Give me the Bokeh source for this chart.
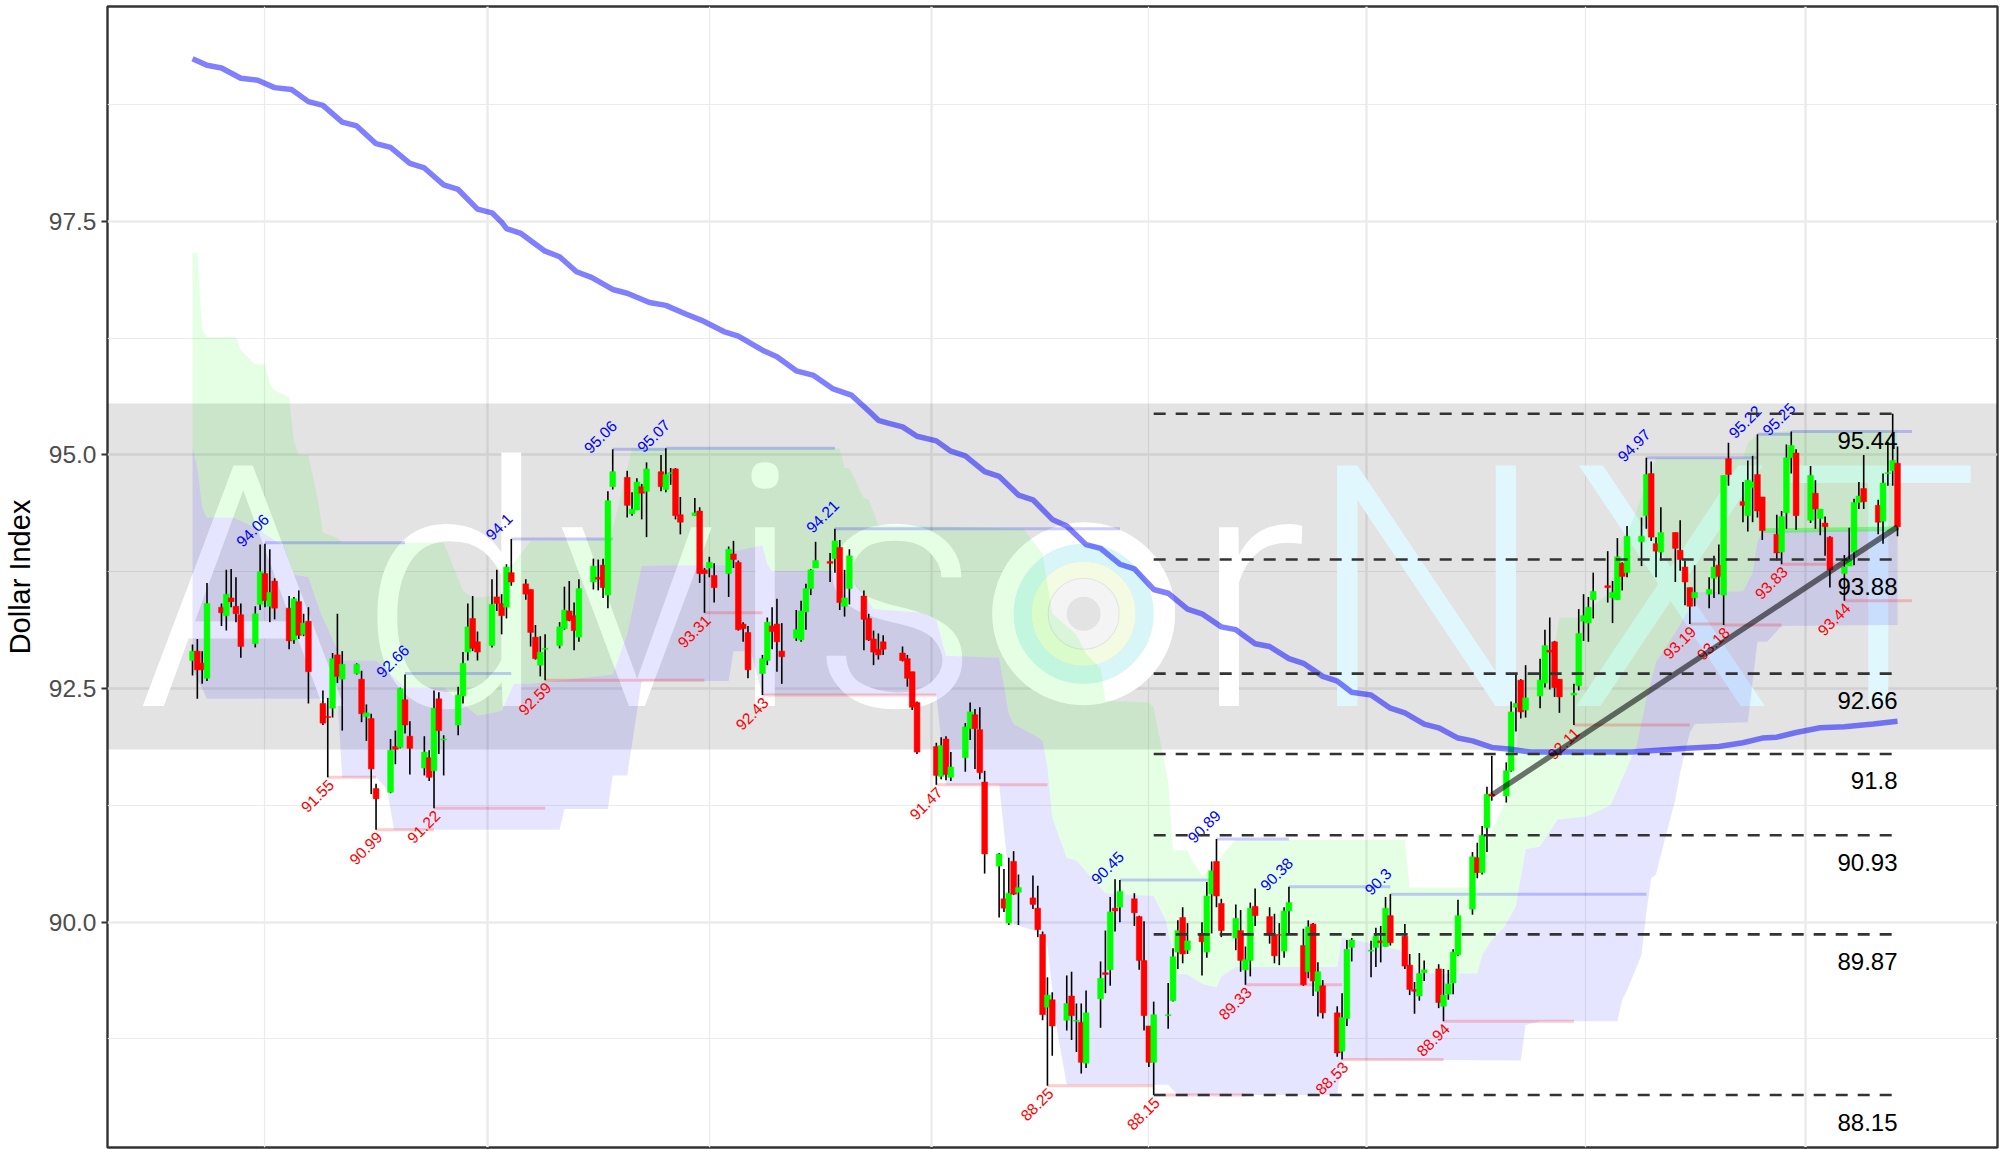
from bokeh.plotting import figure
from bokeh.models import Range1d, FixedTicker, NumeralTickFormatter
from bokeh.core.properties import value
from bokeh.embed import file_html
from bokeh.resources import INLINE

candle_day = [
 0,1,2,3, 6,7,8,9,10, 13,14,15,16,17, 20,21,22,23,24, 27,28,29,30,31,
 34,35,36,37,38, 41,42,43,44,45, 48,49,50,51,52, 55,56,57,58,59, 62,63,64,65,66,
 69,70,71,72,73, 76,77,78,79,80, 83,84,85,86,87, 90,91,92,93,94, 97,98,99,100,101,
 104,105,106,107,108, 111,112,113,114,115, 118,119,120,121,122, 125,126,127,128,129,
 132,133,134,135,136, 139,140,141,142,143, 147,148,149,150, 154,155,156,157, 160,161,162,163,164,
 167,168,169,170,171, 174,175,176,177,178, 181,182,183,184,185, 188,189,190,191,192,
 195,196,197,198,199, 202,203,204,205,206, 209,210,211,212,213, 216,217,218,219,220,
 223,224,225,226,227, 230,231,232,233,234, 237,238,239,240, 244,245,246,247,248,
 251,252,253,254,255, 258,259,260,261,262, 265,266,267,268,269, 272,273,274,275,276,
 279,280,281,282,283, 286,287,288,289,290, 293,294,295,296,297, 300,301,302,303,304,
 307,308,309,310,311, 314,315,316,317,318, 321,322,323,324,325, 328,329,330,331,332,
 335,336,337,338,339, 342,343,344,345,346, 349,350,351,352,353]

opens = [
 92.80,92.90,92.77,92.61, 93.37,93.28,93.47,93.38,93.29, 92.98,93.40,93.73,93.38,93.65, 93.36,93.02,93.43,93.08,93.22, 92.34,92.20,92.29,92.86,92.60,
 92.66,92.60,92.20,92.18,91.43, 91.39,91.88,91.87,92.38,91.99, 91.65,91.76,91.62,92.39,91.95, 92.11,92.42,92.89,93.25,93.00, 92.96,93.48,93.41,93.37,93.74,
 93.62,93.56,93.05,92.75,92.92, 92.96,93.14,93.33,93.28,93.05, 93.64,93.69,93.82,93.50,94.66, 94.76,94.37,94.41,94.66,94.61, 94.82,94.63,94.80,94.85,94.36,
 94.35,94.40,93.77,93.79,93.71, 93.73,93.94,93.85,93.19,93.10, 92.66,92.80,93.17,93.19,92.90, 93.04,93.02,93.32,93.57,93.79,
 93.86,93.89,94.01,93.38,93.57, 93.49,93.25,93.03,92.92,93.00, 92.88,92.82,92.68,92.35, 91.88,91.56,91.96,91.55, 91.76,92.07,92.22,92.06,91.50,
 90.60,90.25,89.99,90.65,90.32, 90.26,90.15,89.87,89.09,89.17, 88.95,89.21,88.94,88.93,88.49, 89.18,89.46,89.49,90.15,90.16,
 90.25,90.06,89.59,88.89,88.50, 89.00,89.16,89.68,90.05,89.70, 89.88,89.68,90.30,90.65,90.20, 89.83,89.91,89.49,89.59,90.17,
 90.06,89.86,89.87,89.69,90.12, 89.75,89.47,89.98,89.26,89.32, 89.03,88.62,88.97,89.73, 89.69,89.73,89.80,89.74,90.07,
 89.85,89.54,89.28,89.21,89.46, 89.50,89.10,89.23,89.35,89.65, 90.14,90.69,90.53,91.01,91.37, 91.35,91.62,92.30,92.59,92.27,
 92.42,92.56,92.91,93.00,92.60, 92.43,92.53,93.22,93.20,93.45, 93.60,93.47,93.45,93.84,93.74, 94.07,94.35,94.80,94.05,93.96,
 94.17,93.98,93.80,93.58,93.47, 93.51,93.68,93.82,93.50,94.96, 94.50,94.35,94.65,94.79,94.55, 94.15,93.96,94.38,94.97,95.02,
 94.30,94.59,94.32,94.27,94.12, 93.73,93.81,93.96,94.49,94.64, 94.46,94.29,94.80,94.83,94.91]

closes = [
 92.90,92.70,92.70,93.41, 93.31,93.51,93.43,93.30,92.95, 93.30,93.75,93.44,93.53,93.36, 93.01,93.46,93.07,93.20,92.68, 92.13,92.19,92.82,92.63,92.76,
 92.76,92.23,92.24,91.64,91.32, 91.84,91.85,92.50,92.11,91.86, 91.82,91.55,92.29,92.05,91.96, 92.43,92.77,93.16,92.93,92.89, 93.40,93.41,93.28,93.80,93.64,
 93.51,93.10,92.82,92.89,92.93, 93.16,93.34,93.23,93.12,93.57, 93.81,93.67,93.58,94.51,94.82, 94.46,94.42,94.71,94.59,94.85, 94.66,94.79,94.81,94.35,94.28,
 94.38,93.73,93.73,93.85,93.58, 93.99,93.88,93.13,93.14,92.70, 92.82,93.21,93.11,93.00,92.84, 93.13,93.33,93.57,93.77,93.87,
 93.84,94.08,93.42,93.47,93.92, 93.24,93.02,92.89,92.86,92.92, 92.80,92.61,92.30,91.82, 91.57,91.89,91.58,91.66, 92.09,92.25,92.07,91.60,90.73,
 90.73,90.15,90.31,90.30,90.37, 90.19,89.92,89.01,89.22,88.89, 89.13,89.00,88.95,88.50,89.03, 89.40,89.44,90.11,90.12,90.33,
 90.10,89.59,89.00,88.50,89.01, 89.01,89.63,89.91,89.66,89.80, 89.79,90.28,90.55,90.28,89.91, 90.04,89.59,89.60,90.15,90.07,
 89.86,89.64,89.86,90.12,90.21, 89.33,89.95,89.37,89.47,89.03, 88.60,88.98,89.71,89.81, 89.70,89.85,89.78,90.15,89.78,
 89.53,89.28,89.26,89.45,89.49, 89.14,89.22,89.34,89.68,90.07, 90.70,90.53,90.93,91.37,91.35, 91.62,92.25,92.34,92.25,92.40,
 92.59,92.96,92.89,92.51,92.41, 92.45,93.09,93.28,93.37,93.54, 93.58,93.53,93.91,93.70,94.13, 94.13,94.79,94.12,93.97,94.17,
 94.00,93.88,93.64,93.38,93.53, 93.56,93.80,93.70,94.78,94.79, 94.46,94.73,94.71,94.40,94.19, 93.95,94.34,94.97,95.10,94.35,
 94.78,94.42,94.42,94.23,93.77, 93.80,93.88,94.49,94.56,94.50, 94.28,94.70,94.81,94.94,94.23]

highs = [
 92.97,93.03,92.90,93.63, 93.41,93.77,93.78,93.69,93.41, 93.38,94.04,94.05,93.99,93.68, 93.49,93.48,93.55,93.30,93.37, 92.48,92.40,92.88,93.30,92.90,
 92.77,92.69,92.33,92.23,91.48, 91.96,92.05,92.51,92.65,92.15, 91.99,91.84,92.48,92.46,92.00, 92.52,92.89,93.41,93.49,93.11, 93.67,93.77,93.51,93.83,94.10,
 93.67,93.56,93.18,93.06,93.08, 93.21,93.59,93.65,93.42,93.67, 93.89,93.88,93.89,94.61,95.06, 94.83,94.60,94.75,94.69,94.92, 95.00,95.07,94.86,94.86,94.55,
 94.54,94.44,93.79,93.91,93.84, 94.02,94.08,93.87,93.21,93.17, 92.86,93.26,93.37,93.46,93.20, 93.34,93.44,93.62,93.78,94.07,
 93.95,94.21,94.09,93.77,93.99, 93.55,93.30,93.12,93.09,93.07, 92.95,92.86,92.68,92.36, 91.92,91.98,91.99,91.82, 92.13,92.35,92.28,92.30,91.62,
 90.74,90.57,90.69,90.76,90.51, 90.50,90.39,89.90,89.41,89.25, 89.43,89.47,89.13,89.13,89.27, 89.58,89.91,90.27,90.46,90.45,
 90.31,90.07,90.01,88.89,89.15, 89.35,89.72,90.02,90.16,89.99, 90.00,90.43,90.65,90.89,90.25, 90.19,90.13,89.74,90.21,90.36,
 90.16,90.09,89.99,90.16,90.38, 89.93,90.02,89.99,89.57,89.38, 89.10,89.24,89.81,89.83, 89.80,89.94,89.96,90.27,90.30,
 89.98,89.66,89.36,89.67,89.59, 89.55,89.50,89.49,89.71,90.24, 90.75,90.85,91.03,91.45,91.78, 91.71,92.36,92.66,92.60,92.75,
 92.82,93.13,93.26,93.01,92.60, 92.55,93.35,93.51,93.48,93.74, 93.97,93.65,94.11,93.85,94.24, 94.33,94.97,94.93,94.12,94.44,
 94.17,94.30,93.87,93.58,93.82, 93.69,93.92,94.04,94.78,95.13, 94.71,94.94,94.99,95.22,94.55, 94.36,94.40,95.11,95.25,95.06,
 94.88,94.73,94.42,94.34,94.13, 93.93,94.22,94.53,94.71,95.00, 94.52,94.80,95.14,95.44,95.09]

lows = [
 92.64,92.39,92.55,92.58, 93.17,93.12,93.37,93.21,92.83, 92.94,93.34,93.37,93.21,93.24, 92.92,92.98,93.03,93.06,92.34, 92.11,91.55,92.19,92.56,92.05,
 92.65,92.14,91.94,91.37,90.99, 91.38,91.69,91.86,92.02,91.58, 91.57,91.51,91.22,91.80,91.57, 92.00,92.34,92.80,92.90,92.80, 92.94,93.33,93.08,93.25,93.60,
 93.45,92.95,92.81,92.63,92.59, 92.93,93.13,93.22,92.91,93.00, 93.56,93.55,93.47,93.36,94.63, 94.33,94.35,94.41,94.31,94.12, 94.61,94.60,94.68,94.31,94.15,
 94.35,93.63,93.31,93.69,93.42, 93.48,93.79,93.12,93.00,92.61, 92.43,92.75,92.92,92.68,92.55, 93.01,93.00,93.13,93.50,93.79,
 93.64,93.74,93.34,93.27,93.40, 92.91,93.01,92.75,92.81,92.86, 92.79,92.52,92.27,91.80, 91.47,91.53,91.52,91.51, 91.61,91.95,91.64,91.53,90.52,
 90.05,90.11,89.97,90.29,89.97, 90.14,89.84,88.95,88.25,88.57, 88.84,88.74,88.61,88.38,88.44, 88.87,89.24,89.32,89.90,90.00,
 89.96,89.49,88.84,88.45,88.15, 88.86,89.15,89.50,89.56,89.66, 89.43,89.62,89.88,90.16,89.84, 89.70,89.47,89.33,89.42,89.96,
 89.77,89.56,89.54,89.62,89.88, 89.32,89.40,89.21,88.99,88.97, 88.56,88.53,88.89,89.58, 89.41,89.52,89.57,89.74,89.75,
 89.50,89.22,89.02,89.16,89.37, 89.08,88.94,89.17,89.23,89.64, 90.08,90.47,90.51,90.75,91.30, 91.28,91.61,92.04,92.18,92.19,
 92.29,92.51,92.49,92.41,92.24, 92.11,92.48,93.01,93.00,93.25, 93.42,93.20,93.45,93.55,93.69, 93.81,94.21,94.08,93.69,93.87,
 93.64,93.76,93.39,93.19,93.38, 93.36,93.47,93.51,93.18,94.67, 94.28,94.18,94.28,94.33,94.09, 93.87,93.83,94.21,94.80,94.20,
 94.27,94.21,94.14,93.92,93.58, 93.44,93.81,93.82,94.42,94.42, 94.15,94.05,94.67,94.67,94.13]

ma_day = [0,3,6,10,13.5,17,20.5,24,27,31,34,38,41,45,48,52,55,59,62,64,65,68,73,76,79.5,82.6,87,90,94.6,98,102,105.4,110,113,118,121,125,128.6,132.5,136.4,140.4,142,144,147,150,154,157,160,164,167,171,174,178,181,185,188,192,195,199,202,206,209,213,216,220,223,227,230,234,237,240,244,248,251,255,258,262,265,269,273,277,283,290,298,309.5,316,321,325,328,332,337,342,348,353]
ma_val = [99.24,99.17,99.14,99.03,99.01,98.93,98.91,98.78,98.74,98.56,98.52,98.33,98.29,98.12,98.07,97.89,97.84,97.63,97.59,97.49,97.42,97.37,97.18,97.12,96.96,96.90,96.77,96.73,96.63,96.60,96.51,96.44,96.32,96.27,96.12,96.05,95.90,95.85,95.71,95.64,95.45,95.37,95.34,95.30,95.20,95.15,95.04,94.99,94.82,94.77,94.57,94.52,94.31,94.24,94.04,94.00,93.83,93.78,93.56,93.52,93.35,93.30,93.16,93.13,92.98,92.95,92.82,92.77,92.63,92.58,92.46,92.43,92.29,92.24,92.12,92.08,91.97,91.94,91.87,91.85,91.82,91.82,91.82,91.82,91.86,91.88,91.92,91.97,91.98,92.03,92.08,92.09,92.12,92.15]

top_day = [0,1,2,3,9,10,13,15,16,17,20,21,22,24,26,27,30,31,52,56,58,64,66,70,86.5,91,134,135,136,139,140,142,172,175,176,178,183,185,188,189,198,199,202,203,206,207,209,211,214,216,251,252,266,269,271.5,274,276,281,283,287,293,296,297,303,321,322,324,331,353]
top_val = [97.16,97.16,96.33,96.26,96.26,96.12,95.97,95.97,95.76,95.69,95.62,95.15,95.0,95.0,94.51,94.17,94.11,94.06,94.06,93.55,93.47,93.5,93.81,94.08,94.10,95.07,95.07,94.86,94.86,94.54,94.52,94.25,94.21,94.01,93.94,93.30,93.08,92.87,92.72,92.37,92.35,92.30,91.51,90.77,90.77,90.66,90.50,90.57,90.77,90.88,90.88,90.37,90.37,90.98,91.25,91.82,92.66,92.66,93.26,93.26,93.51,94.12,94.14,94.97,94.97,95.13,95.22,95.26,95.26]

mid_day = [0,1,2,3,8.5,13,19,21,24,26.5,31,38,44,52,59,64,66.5,70,87,90,93,99,111,112,118,119,120,132,136,141,151,154,156,167,169,170,175,176,177,178,181,183,189,199,201.5,204,206,209,212,213,216,237,238,250,254,266,267,269,271.6,274,276,279,282.6,288.6,293.6,299,301,303,307,309.5,311,321,323,324,325,353]
mid_val = [95.08,94.87,94.44,94.33,94.33,94.22,94.02,93.72,93.69,93.31,92.80,92.80,92.51,92.51,92.21,92.26,92.55,92.55,92.65,93.08,93.81,93.82,93.82,93.97,94.03,93.83,93.76,93.76,93.72,93.35,93.31,93.24,92.85,92.83,92.23,92.12,91.98,91.94,91.66,91.12,90.69,90.66,90.31,90.28,90.02,89.45,89.44,89.34,89.30,89.42,89.52,89.52,89.84,89.70,89.45,89.45,89.65,89.81,89.95,90.17,90.78,90.81,91.10,91.13,91.25,91.89,92.39,92.78,93.10,93.32,93.53,93.54,93.74,94.07,94.18,94.21]

bot_day = [0,3,30,31,38,40.3,41.7,76,77,86,87,90,93,111,112,115.6,118,154,156,167,168,170,176,177,179,181,202,204,237,238,275,276,279,295,296,297,300,301,302,303,305,307,308,310,311,322,324,326,329,353]
bot_val = [92.71,92.39,92.39,91.55,91.55,91.42,90.99,90.99,91.21,91.21,91.57,91.57,92.58,92.58,92.90,92.90,92.43,92.43,91.47,91.47,90.98,89.98,89.88,89.74,88.84,88.26,88.26,88.15,88.15,88.53,88.52,88.90,88.94,88.94,89.17,89.27,89.65,90.10,90.47,90.51,90.92,91.31,91.60,92.03,92.12,92.14,93.00,93.00,93.17,93.18]

high_day = [15,44,66,87,98,133,192,212,227,248,301,324,331]
high_val = [94.06,92.66,94.1,95.06,95.07,94.21,90.45,90.89,90.38,90.3,94.97,95.22,95.25]
high_txt = ["94.06","92.66","94.1","95.06","95.07","94.21","90.45","90.89","90.38","90.3","94.97","95.22","95.25"]
low_day = [28,38,50,73,106,118,154,177,199,218,238,259,286,310,317,329,342]
low_val = [91.55,90.99,91.22,92.59,93.31,92.43,91.47,88.25,88.15,89.33,88.53,88.94,92.11,93.19,93.18,93.83,93.44]
low_txt = ["91.55","90.99","91.22","92.59","93.31","92.43","91.47","88.25","88.15","89.33","88.53","88.94","92.11","93.19","93.18","93.83","93.44"]
level_val = [95.44,93.88,92.66,91.8,90.93,89.87,88.15]
level_txt = ["95.44","93.88","92.66","91.8","90.93","89.87","88.15"]
trend_day = [269,353]
trend_val = [91.36,94.23]
flat_day = [325,353]
flat_val = [94.19,94.21]
band_lo, band_hi = 91.85, 95.55
y_ticks = [90,92.5,95,97.5]
y_minor = [88.75,91.25,93.75,96.25,98.75]
x_major = [61,153,243,334]
x_minor = [15,107,198,288.5]

assert len(candle_day)==len(opens)==len(closes)==len(highs)==len(lows), (len(candle_day),len(opens),len(closes),len(highs),len(lows))
assert len(ma_day)==len(ma_val), (len(ma_day),len(ma_val))
assert len(top_day)==len(top_val), (len(top_day),len(top_val))
assert len(mid_day)==len(mid_val), (len(mid_day),len(mid_val))
assert len(bot_day)==len(bot_val), (len(bot_day),len(bot_val))

SANS = value("Liberation Sans")
p = figure(width=1999, height=1149, output_backend="svg", toolbar_location=None,
           x_range=Range1d(-17.6, 373.7), y_range=Range1d(87.589, 99.798),
           min_border_left=107, min_border_right=2, min_border_top=6, min_border_bottom=0)
p.xgrid.visible = False
p.ygrid.visible = False
p.outline_line_color = "#333333"
p.outline_line_width = 2.4
p.background_fill_color = "white"

p.yaxis.ticker = FixedTicker(ticks=y_ticks)
p.yaxis.formatter = NumeralTickFormatter(format="0.0")
p.yaxis.major_label_text_font = "Liberation Sans"
p.yaxis.major_label_text_font_size = "24.5px"
p.yaxis.major_label_text_color = "#4d4d4d"
p.yaxis.major_tick_out = 6
p.yaxis.major_tick_in = 0
p.yaxis.major_tick_line_width = 2.2
p.yaxis.major_tick_line_color = "#333333"
p.yaxis.minor_tick_line_color = None
p.yaxis.axis_line_color = None
p.yaxis.axis_label = "Dollar Index"
p.yaxis.axis_label_text_font = "Liberation Sans"
p.yaxis.axis_label_text_font_style = "normal"
p.yaxis.axis_label_text_font_size = "29px"
p.yaxis.axis_label_text_color = "black"
p.yaxis.axis_label_standoff = 10
p.xaxis.ticker = FixedTicker(ticks=x_major)
p.xaxis.major_label_text_font_size = "0px"
p.xaxis.major_label_text_color = None
p.xaxis.major_label_standoff = 0
p.xaxis.major_tick_out = 2
p.xaxis.major_tick_in = 0
p.xaxis.major_tick_line_width = 2.2
p.xaxis.major_tick_line_color = "#333333"
p.xaxis.minor_tick_line_color = None
p.xaxis.axis_line_color = None

# grid
p.hspan(y=y_minor, line_color="#ebebeb", line_width=1.2)
p.vspan(x=x_minor, line_color="#ebebeb", line_width=1.2)
p.hspan(y=y_ticks, line_color="#ebebeb", line_width=2.4)
p.vspan(x=x_major, line_color="#ebebeb", line_width=2.4)
p.hstrip(y0=[band_lo], y1=[band_hi], fill_color="black", fill_alpha=0.11, line_color=None)

# watermark
wm_base = 93.55
wm_size = "338px"
WM = value("Roboto Light, Roboto")
for ch, day, col in [("A",10.5,"white"),("d",54,"white"),("v",92,"white"),("i",118.5,"white"),("s",145.5,"white"),
                     ("r",219,"white"),("N",255.5,"#e0f7fd"),("X",306,"#e0f7fd"),("T",349,"#e0f7fd")]:
    p.text(x=[day], y=[wm_base], text=[ch], text_font=WM, text_font_size=wm_size, text_color=col,
           text_align="center", text_baseline="alphabetic")
logo_x, logo_y = [184.5], [93.30]
for size, lw, col in [(160,23,"white"),(122,18,"#d8f5f8"),(88,16,"#f3fce2"),(52,18,"#f4f4f4")]:
    p.scatter(x=logo_x, y=logo_y, marker="circle", size=size, fill_color=None, line_color=col, line_width=lw)

# ribbons
p.patch(x=top_day+mid_day[::-1], y=top_val+mid_val[::-1], fill_color="#00ff00", fill_alpha=0.1, line_color=None)
p.patch(x=mid_day+bot_day[::-1], y=mid_val+bot_val[::-1], fill_color="#0000ff", fill_alpha=0.1, line_color=None)

# pivot lines
p.segment(x0=high_day, x1=high_day[1:]+[356], y0=high_val, y1=high_val, line_color="blue", line_alpha=0.2, line_width=3)
p.segment(x0=low_day, x1=low_day[1:]+[356], y0=low_val, y1=low_val, line_color="red", line_alpha=0.2, line_width=3)
p.line(flat_day, flat_val, line_color="#00ff00", line_alpha=0.4, line_width=4.5)

# pivot labels
p.text(x=high_day, y=high_val, text=high_txt, text_color="blue", text_font=SANS, text_font_size="15.5px", angle=45,
       angle_units="deg", text_align="center", text_baseline="middle", x_offset=-12, y_offset=-12)
p.text(x=low_day, y=low_val, text=low_txt, text_color="red", text_font=SANS, text_font_size="15.5px", angle=45,
       angle_units="deg", text_align="center", text_baseline="middle", x_offset=-10, y_offset=19)

# candles
colors = ["#00ff00" if c >= o else "#ff0000" for o, c in zip(opens, closes)]
p.segment(x0=candle_day, x1=candle_day, y0=lows, y1=highs, line_color="black", line_width=1.6)
p.vbar(x=candle_day, width=1.2, bottom=[min(o,c) for o,c in zip(opens,closes)], top=[max(o,c) for o,c in zip(opens,closes)],
       fill_color=colors, line_color=colors, line_width=0.5)

# moving average
p.line(ma_day, ma_val, line_color="blue", line_alpha=0.5, line_width=5.5)

# levels
p.segment(x0=[199]*len(level_val), x1=[353]*len(level_val), y0=level_val, y1=level_val, line_color="#333333",
          line_width=2.6, line_dash="12 10")
p.text(x=[353]*len(level_val), y=level_val, text=level_txt, text_color="black", text_font=SANS, text_font_size="24px",
       text_align="right", text_baseline="middle", y_offset=27)
p.line(trend_day, trend_val, line_color="black", line_alpha=0.55, line_width=5.5)

open("out.html", "w").write(file_html(p, INLINE))
